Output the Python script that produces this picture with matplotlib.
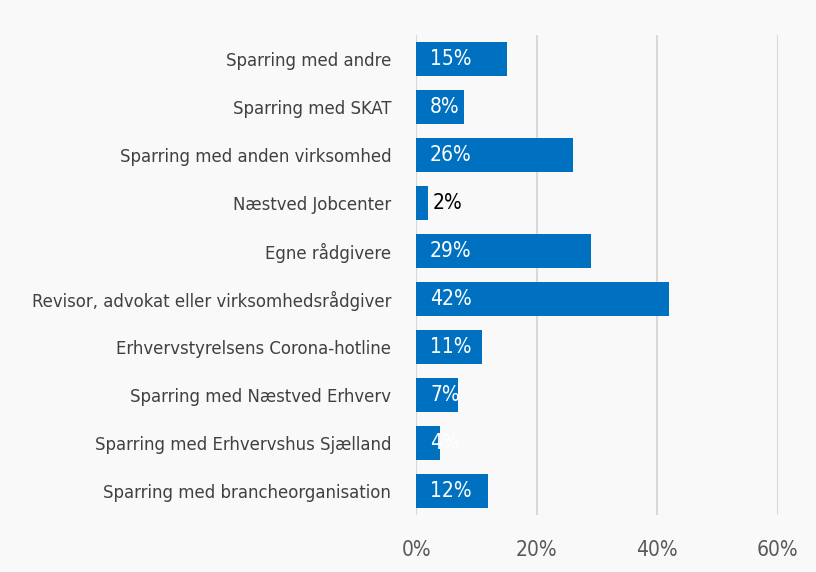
import matplotlib.pyplot as plt

categories = [
    "Sparring med andre",
    "Sparring med SKAT",
    "Sparring med anden virksomhed",
    "Næstved Jobcenter",
    "Egne rådgivere",
    "Revisor, advokat eller virksomhedsrådgiver",
    "Erhvervstyrelsens Corona-hotline",
    "Sparring med Næstved Erhverv",
    "Sparring med Erhvervshus Sjælland",
    "Sparring med brancheorganisation",
]
values = [15, 8, 26, 2, 29, 42, 11, 7, 4, 12]
xticks = [0, 20, 40, 60]

plt.rcParams["font.family"] = ["DejaVu Sans"]
plt.rcParams["font.stretch"] = "condensed"

bar_color = "#0070c0"

fig = plt.figure(figsize=(8.16, 5.72), dpi=100)
fig.patch.set_facecolor("#f9f9f9")
ax = fig.add_axes([0.51, 0.1, 0.443, 0.839])
ax.set_facecolor("#f9f9f9")

pos = list(range(len(categories)))[::-1]
ax.barh(pos, values, height=0.7, color=bar_color, zorder=3)

for p, v in zip(pos, values):
    if v >= 4:
        ax.text(2.3, p, f"{v}%", va="center", ha="left", color="white", fontsize=15, zorder=4)
    else:
        ax.text(v + 0.8, p, f"{v}%", va="center", ha="left", color="black", fontsize=15, zorder=4)

ax.set_yticks(pos)
ax.set_yticklabels(categories, fontsize=13.2, color="#404040")
ax.set_xticks(xticks)
ax.set_xticklabels([f"{t}%" for t in xticks], fontsize=15, color="#595959")
ax.set_xlim(0, 60)
ax.set_ylim(-0.5, len(categories) - 0.5)
ax.grid(axis="x", color="#d9d9d9", linewidth=1.5, zorder=0)
ax.tick_params(axis="both", length=0)
ax.tick_params(axis="y", pad=18)
ax.tick_params(axis="x", pad=18)
for s in ax.spines.values():
    s.set_visible(False)
ax.axvline(0, color="#d9d9d9", linewidth=1.5, zorder=1)

fig.savefig("out.png", dpi=100, facecolor=fig.get_facecolor())
